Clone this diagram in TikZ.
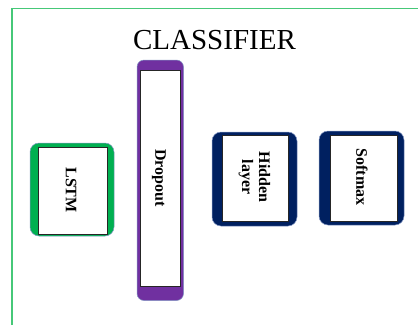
\documentclass[tikz,border=0pt]{standalone}
\usepackage{fontspec}
\setmainfont{Liberation Serif}
\definecolor{framegreen}{RGB}{70,200,120}
\definecolor{lstmgreen}{RGB}{0,176,80}
\definecolor{droppurple}{RGB}{112,48,160}
\definecolor{navyblue}{RGB}{0,32,96}
\definecolor{edgeblue}{RGB}{130,150,195}
\tikzset{
  outerbox/.style={draw=edgeblue, line width=0.5pt, rounded corners=9pt},
  innerbox/.style={draw=black!85, fill=white, line width=0.7pt},
  lbl/.style={rotate=-90, font=\fontsize{16}{17}\selectfont\bfseries, align=center, inner sep=0pt},
}
\begin{document}
\begin{tikzpicture}[x=1pt, y=-1pt]
\useasboundingbox (0,0) rectangle (418,325);
% frame
\draw[framegreen, line width=1.1pt] (12,325) -- (12,8.5) -- (418,8.5);
% title
\node[font=\fontsize{29}{31}\selectfont, inner sep=0pt, anchor=base] (title) at (214.5,49) {CLASSIFIER};
% LSTM
\filldraw[outerbox, fill=lstmgreen] (30,143) rectangle (114,236);
\filldraw[innerbox] (38,147) rectangle (107,234);
\node[lbl] (lstm) at (71,190) {LSTM};
% Dropout
\filldraw[outerbox, rounded corners=7pt, fill=droppurple] (137,60) rectangle (183.5,300.5);
\filldraw[innerbox] (140,70) rectangle (180,286);
\node[lbl] (dropout) at (159,178) {Dropout};
% Hidden layer
\filldraw[outerbox, fill=navyblue] (212,132) rectangle (297,226);
\filldraw[innerbox] (222,135) rectangle (288,221);
\node[lbl] (hidden) at (254.5,177) {Hidden\\layer};
% Softmax
\filldraw[outerbox, fill=navyblue] (319,131) rectangle (404,225);
\filldraw[innerbox] (330,135) rectangle (397,221);
\node[lbl] (softmax) at (362,177) {Softmax};
\end{tikzpicture}
\end{document}
